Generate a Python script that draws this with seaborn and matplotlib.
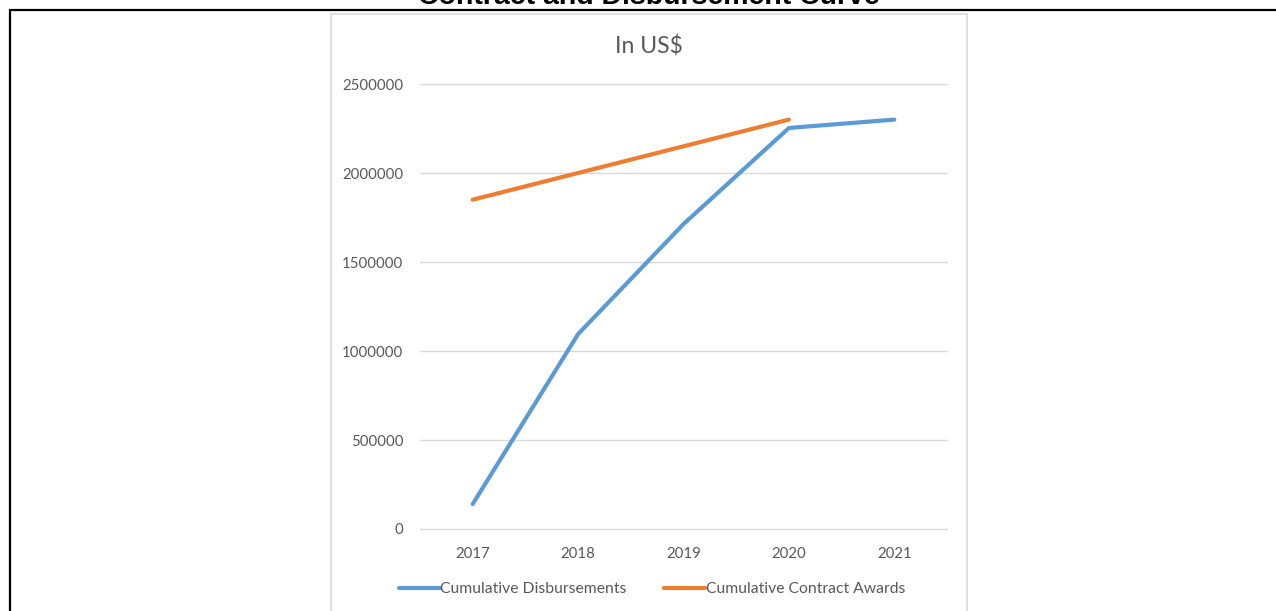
import matplotlib
matplotlib.use("Agg")
import matplotlib.pyplot as plt
import seaborn as sns
import pandas as pd
import numpy as np
from matplotlib.patches import Rectangle

years = [2017, 2018, 2019, 2020, 2021]
disbursements = [140000, 1095000, 1713000, 2253000, 2300000]
contract_awards = [1850000, 2000000, 2150000, 2300000, np.nan]
series_names = ["Cumulative Disbursements", "Cumulative Contract Awards"]
yticks = [0, 500000, 1000000, 1500000, 2000000, 2500000]

df = pd.DataFrame({
    "year": years * 2,
    "value": disbursements + contract_awards,
    "series": [series_names[0]] * 5 + [series_names[1]] * 5,
})

sns.set_theme(style="white")
plt.rcParams["font.family"] = ["Lato", "DejaVu Sans"]

W, H = 1276, 611
fig = plt.figure(figsize=(W / 100, H / 100), dpi=100)
ax = fig.add_axes([420 / W, 1 - 529 / H, (947 - 420) / W, (529 - 84) / H])

palette = {series_names[0]: "#5B9BD5", series_names[1]: "#ED7D31"}
sns.lineplot(data=df, x="year", y="value", hue="series", palette=palette,
             linewidth=3.0, ax=ax, legend=True, solid_capstyle="round", zorder=3)

ax.set_xlim(2016.5, 2021.5)
ax.set_ylim(0, 2500000)
ax.set_xticks(years)
ax.set_xticklabels([str(y) for y in years])
ax.set_yticks(yticks)
ax.set_yticklabels([str(v) for v in yticks])
ax.set_xlabel("")
ax.set_ylabel("")
for s in ax.spines.values():
    s.set_visible(False)
ax.yaxis.grid(True, color="#d9d9d9", linewidth=1.0)
for gl in ax.get_ygridlines():
    gl.set_clip_on(False)
ax.set_axisbelow(True)
ax.tick_params(axis="both", length=0, labelsize=10.8, colors="#595959")
ax.tick_params(axis="y", pad=12)
ax.tick_params(axis="x", pad=13)

handles, labels = ax.get_legend_handles_labels()
ax.legend_.remove()
leg = fig.legend(handles, labels, loc="center", bbox_to_anchor=(652 / W, 1 - 589 / H),
                 ncol=2, frameon=False, fontsize=11.3, handlelength=2.6,
                 handletextpad=0.05, columnspacing=2.4, labelcolor="#595959")
for l in leg.get_lines():
    l.set_linewidth(3.0)

fig.text(649 / W, 1 - 46 / H, "In US$", ha="center", va="center",
         fontsize=16.5, color="#595959")

fig.text(649 / W, 1 - 4 / H, "Contract and Disbursement Curve", ha="center",
         va="baseline", fontsize=20.5, fontweight="bold", color="black",
         family=["Liberation Sans", "DejaVu Sans"])

fig.patches.append(Rectangle((331 / W, -0.05), (967 - 331) / W, 1.05 - 14 / H,
                             transform=fig.transFigure, fill=False,
                             edgecolor="#d9d9d9", linewidth=1.2))
fig.patches.append(Rectangle((10 / W, -0.05), 1.1, 1.05 - 10 / H,
                             transform=fig.transFigure, fill=False,
                             edgecolor="black", linewidth=1.6))

fig.savefig("out.png", dpi=100)
